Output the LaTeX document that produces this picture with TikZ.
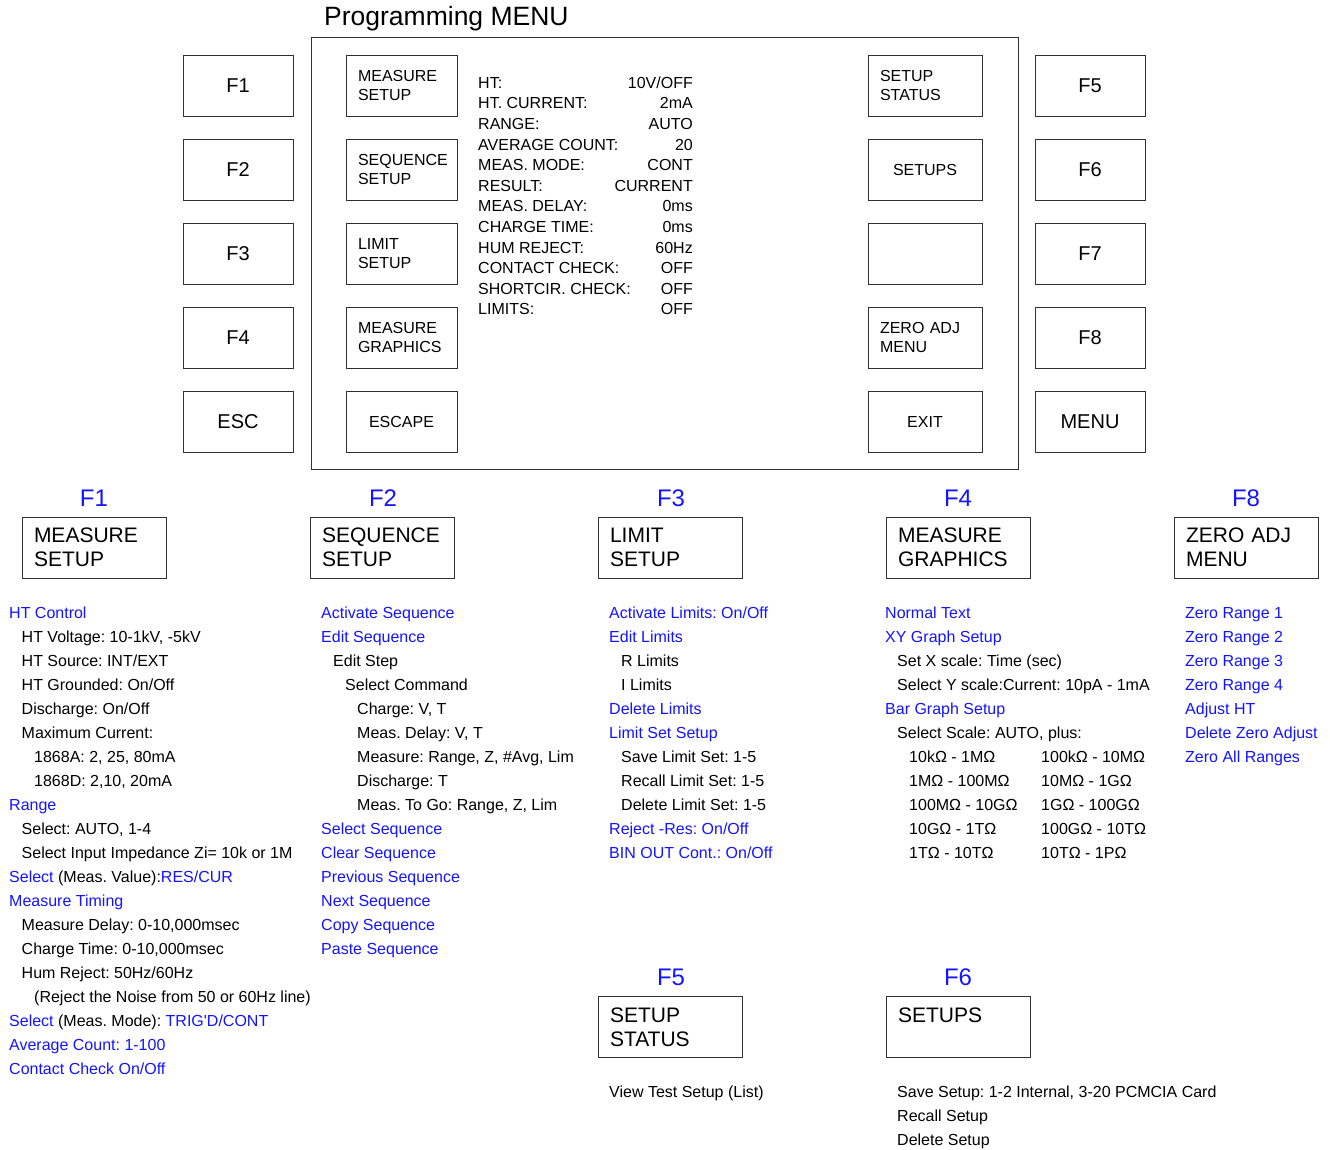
\documentclass[tikz,border=0pt]{standalone}
\usepackage{fontspec}
\setmainfont{Liberation Sans}
\frenchspacing
\definecolor{bl}{RGB}{20,20,255}
\definecolor{edge}{RGB}{50,50,50}
\begin{document}
\begin{tikzpicture}[x=1pt,y=-1pt,
  frame/.style={draw=edge, line width=1pt},
  keybox/.style={frame, minimum width=110pt, minimum height=61pt, inner sep=0pt, font=\fontsize{20}{24}\selectfont},
  ibox/.style={frame, minimum width=111pt, minimum height=61pt, inner xsep=12pt, inner ysep=0pt, text width=87pt, align=left, font=\fontsize{16}{18.5}\selectfont},
  rbox/.style={ibox, minimum width=114pt, text width=90pt},
  cbox/.style={frame, minimum width=111pt, minimum height=61pt, inner sep=0pt, font=\fontsize{16}{18.5}\selectfont},
  bigbox/.style={frame, minimum width=144pt, minimum height=61pt, inner xsep=12pt, inner ysep=0pt, text width=120pt, align=left, font=\fontsize{21}{24}\selectfont},
  head/.style={text=bl, inner sep=0pt, font=\fontsize{24}{28}\selectfont, text height=17pt, text depth=0pt},
  lst/.style={anchor=west, inner sep=0pt, font=\fontsize{16}{18}\selectfont, text height=11.5pt, text depth=0pt},
  stat/.style={inner sep=0pt, font=\fontsize{16}{18}\selectfont, text height=11.5pt, text depth=0pt}
]
\useasboundingbox (0,0) rectangle (1330,1149);

% title and frame
\node[anchor=west, inner sep=0pt, font=\fontsize{26.5}{30}\selectfont, text height=19pt, text depth=0pt] (title) at (324,16) {Programming MENU};
\node[frame, minimum width=707pt, minimum height=432pt, inner sep=0pt] (screen) at (664.5,253) {};

% function keys
\node[keybox] (kF1) at (238,85.5) {F1};
\node[keybox] (kF2) at (238,169.5) {F2};
\node[keybox] (kF3) at (238,253.5) {F3};
\node[keybox] (kF4) at (238,337.5) {F4};
\node[keybox] (kESC) at (238,421.5) {ESC};
\node[keybox] (kF5) at (1090,85.5) {F5};
\node[keybox] (kF6) at (1090,169.5) {F6};
\node[keybox] (kF7) at (1090,253.5) {F7};
\node[keybox] (kF8) at (1090,337.5) {F8};
\node[keybox] (kMENU) at (1090,421.5) {MENU};

% inner left soft keys
\node[ibox] (sMS) at (401.5,85.5) {MEASURE\\SETUP};
\node[ibox] (sSS) at (401.5,169.5) {SEQUENCE\\SETUP};
\node[ibox] (sLS) at (401.5,253.5) {LIMIT\\SETUP};
\node[ibox] (sMG) at (401.5,337.5) {MEASURE\\GRAPHICS};
\node[cbox] (sESC) at (401.5,421.5) {ESCAPE};
% inner right soft keys
\node[rbox] (sST) at (925,85.5) {SETUP\\STATUS};
\node[cbox, minimum width=114pt] (sSU) at (925,169.5) {SETUPS};
\node[cbox, minimum width=114pt] (sBL) at (925,253.5) {};
\node[rbox] (sZA) at (925,337.5) {ZERO ADJ\\MENU};
\node[cbox, minimum width=114pt] (sEX) at (925,421.5) {EXIT};

% status table
\foreach \l/\v [count=\i from 0] in {HT:/10V\slash OFF, HT. CURRENT:/2mA, RANGE:/AUTO, AVERAGE COUNT:/20, MEAS. MODE:/CONT, RESULT:/CURRENT, MEAS. DELAY:/0ms, CHARGE TIME:/0ms, HUM REJECT:/60Hz, CONTACT CHECK:/OFF, SHORTCIR. CHECK:/OFF, LIMITS:/OFF}{
  \node[stat, anchor=west] (stl\i) at (478,{82.5+20.6*\i}) {\l};
  \node[stat, anchor=east] (stv\i) at (693,{82.5+20.6*\i}) {\v};
}

% headings and boxes
\node[head] (hF1) at (94,498) {F1};
\node[head] (hF2) at (383,498) {F2};
\node[head] (hF3) at (671,498) {F3};
\node[head] (hF4) at (958,498) {F4};
\node[head] (hF8) at (1246,498) {F8};
\node[head] (hF5) at (671,977) {F5};
\node[head] (hF6) at (958,977) {F6};

\node[bigbox] (bF1) at (94,547.5) {MEASURE\\SETUP};
\node[bigbox] (bF2) at (382,547.5) {SEQUENCE\\SETUP};
\node[bigbox] (bF3) at (670,547.5) {LIMIT\\SETUP};
\node[bigbox] (bF4) at (958,547.5) {MEASURE\\GRAPHICS};
\node[bigbox] (bF8) at (1246,547.5) {ZERO ADJ\\MENU};
\node[bigbox] (bF5) at (670,1027) {SETUP\\STATUS};
\node[bigbox] (bF6) at (958,1027) {SETUPS\\\mbox{}};

% F1 list
\foreach \lv/\c/\t [count=\i from 0] in {
  0/bl/HT Control,
  1/black/{HT Voltage: 10-1kV, -5kV},
  1/black/HT Source: INT\slash EXT,
  1/black/HT Grounded: On\slash Off,
  1/black/Discharge: On\slash Off,
  1/black/Maximum Current:,
  2/black/{1868A: 2, 25, 80mA},
  2/black/{1868D: 2,10, 20mA},
  0/bl/Range,
  1/black/{Select: AUTO, 1-4},
  1/black/Select Input Impedance Zi= 10k or 1M,
  0/black/\textcolor{bl}{Select} (Meas. Value):\textcolor{bl}{RES\slash CUR},
  0/bl/Measure Timing,
  1/black/{Measure Delay: 0-10,000msec},
  1/black/{Charge Time: 0-10,000msec},
  1/black/Hum Reject: 50Hz\slash 60Hz,
  2/black/(Reject the Noise from 50 or 60Hz line),
  0/black/\textcolor{bl}{Select} (Meas. Mode): \textcolor{bl}{TRIG\textquotesingle D\slash CONT},
  0/bl/Average Count: 1-100,
  0/bl/Contact Check On\slash Off}{
  \node[lst, text=\c] (f1-\i) at ({9+12.5*\lv},{612.5+24*\i}) {\t};
}

% F2 list
\foreach \lv/\c/\t [count=\i from 0] in {
  0/bl/Activate Sequence,
  0/bl/Edit Sequence,
  1/black/Edit Step,
  2/black/Select Command,
  3/black/{Charge: V, T},
  3/black/{Meas. Delay: V, T},
  3/black/{Measure: Range, Z, \#Avg, Lim},
  3/black/Discharge: T,
  3/black/{Meas. To Go: Range, Z, Lim},
  0/bl/Select Sequence,
  0/bl/Clear Sequence,
  0/bl/Previous Sequence,
  0/bl/Next Sequence,
  0/bl/Copy Sequence,
  0/bl/Paste Sequence}{
  \node[lst, text=\c] (f2-\i) at ({321+12*\lv},{612.5+24*\i}) {\t};
}

% F3 list
\foreach \lv/\c/\t [count=\i from 0] in {
  0/bl/Activate Limits: On\slash Off,
  0/bl/Edit Limits,
  1/black/R Limits,
  1/black/I Limits,
  0/bl/Delete Limits,
  0/bl/Limit Set Setup,
  1/black/Save Limit Set: 1-5,
  1/black/Recall Limit Set: 1-5,
  1/black/Delete Limit Set: 1-5,
  0/bl/Reject -Res: On\slash Off,
  0/bl/BIN OUT Cont.: On\slash Off}{
  \node[lst, text=\c] (f3-\i) at ({609+12*\lv},{612.5+24*\i}) {\t};
}

% F4 list
\foreach \lv/\c/\t [count=\i from 0] in {
  0/bl/Normal Text,
  0/bl/XY Graph Setup,
  1/black/Set X scale: Time (sec),
  1/black/Select Y scale:Current: 10pA - 1mA,
  0/bl/Bar Graph Setup,
  1/black/{Select Scale: AUTO, plus:},
  2/black/10kΩ - 1MΩ,
  2/black/1MΩ - 100MΩ,
  2/black/100MΩ - 10GΩ,
  2/black/10GΩ - 1TΩ,
  2/black/1TΩ - 10TΩ}{
  \node[lst, text=\c] (f4-\i) at ({885+12*\lv},{612.5+24*\i}) {\t};
}
\foreach \t [count=\i from 6] in {100kΩ - 10MΩ, 10MΩ - 1GΩ, 1GΩ - 100GΩ, 100GΩ - 10TΩ, 10TΩ - 1PΩ}{
  \node[lst] (f4r-\i) at (1041,{612.5+24*\i}) {\t};
}

% F8 list
\foreach \t [count=\i from 0] in {Zero Range 1, Zero Range 2, Zero Range 3, Zero Range 4, Adjust HT, Delete Zero Adjust, Zero All Ranges}{
  \node[lst, text=bl] (f8-\i) at (1185,{612.5+24*\i}) {\t};
}

% F5 and F6 lists
\node[lst] (f5-0) at (609,1091.5) {View Test Setup (List)};
\foreach \t [count=\i from 0] in {{Save Setup: 1-2 Internal, 3-20 PCMCIA Card}, Recall Setup, Delete Setup}{
  \node[lst] (f6-\i) at (897,{1091.5+24*\i}) {\t};
}
\end{tikzpicture}
\end{document}
